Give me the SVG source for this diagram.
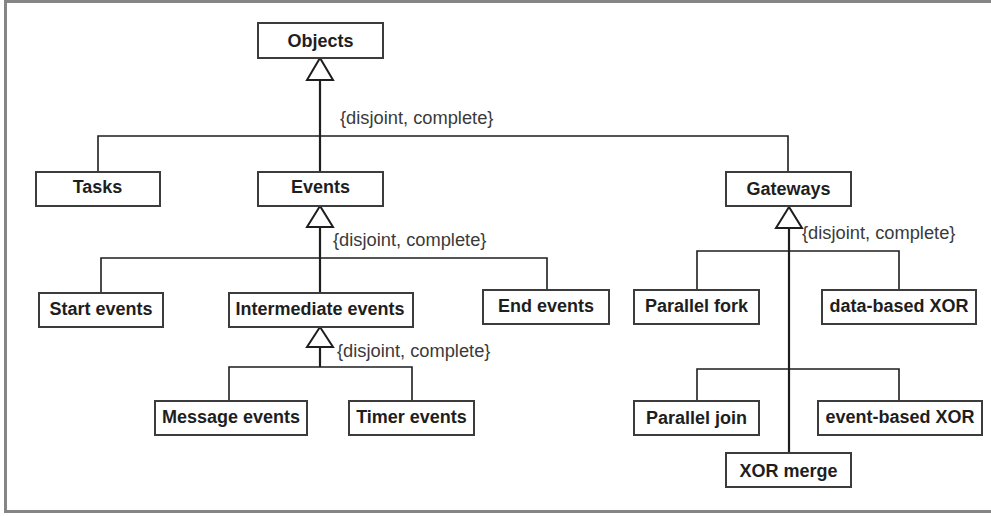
<svg xmlns="http://www.w3.org/2000/svg" width="991" height="516" viewBox="0 0 991 516">
  <style>
    .frame { fill: none; stroke: #858585; stroke-width: 3; }
    .box rect { fill: #ffffff; stroke: #3c3c3c; stroke-width: 2; }
    .box text { font-family: "Liberation Sans", Arial, sans-serif; font-size: 18px; font-weight: bold; fill: #1e1e1e; text-anchor: middle; }
    .wire { fill: none; stroke: #1e1e1e; stroke-width: 1.6; }
    .stem { fill: none; stroke: #1e1e1e; stroke-width: 2.2; }
    .tri { fill: #ffffff; stroke: #1e1e1e; stroke-width: 2; stroke-linejoin: miter; }
    .note { font-family: "Liberation Sans", Arial, sans-serif; font-size: 18.3px; fill: #3a3a3a; }
  </style>

  <rect x="0" y="0" width="991" height="516" fill="#ffffff"/>
  <rect class="frame" x="5.5" y="1.5" width="1000" height="510"/>

  <!-- generalisation connectors -->
  <g id="connectors">
    <!-- Objects -> Tasks / Events / Gateways -->
    <path class="stem" d="M320 80 V172"/>
    <path class="wire" d="M98 172 V136 H788 V172"/>
    <polygon class="tri" points="320,58 307,80 333,80"/>
    <text class="note" x="340" y="124">{disjoint, complete}</text>

    <!-- Events -> Start / Intermediate / End -->
    <path class="stem" d="M320 227 V293"/>
    <path class="wire" d="M101 293 V258 H547 V290"/>
    <polygon class="tri" points="320,206 307,227 333,227"/>
    <text class="note" x="333" y="246">{disjoint, complete}</text>

    <!-- Intermediate events -> Message / Timer -->
    <path class="stem" d="M320 347 V367"/>
    <path class="wire" d="M229 401 V367 H412 V401"/>
    <polygon class="tri" points="320,327 307,347 333,347"/>
    <text class="note" x="337" y="357">{disjoint, complete}</text>

    <!-- Gateways -> five gateway kinds -->
    <path class="stem" d="M789 228 V453"/>
    <path class="wire" d="M697 290 V251 H899 V290"/>
    <path class="wire" d="M697 401 V369 H899 V401"/>
    <polygon class="tri" points="789,207 776,228 802,228"/>
    <text class="note" x="802" y="239">{disjoint, complete}</text>
  </g>

  <!-- class nodes -->
  <g id="objects" class="box"><rect x="258" y="23" width="125" height="35"/><text x="320.5" y="47">Objects</text></g>
  <g id="tasks" class="box"><rect x="36" y="172" width="124" height="34"/><text x="97.5" y="193">Tasks</text></g>
  <g id="events" class="box"><rect x="258" y="172" width="125" height="34"/><text x="320.5" y="193">Events</text></g>
  <g id="gateways" class="box"><rect x="726" y="172" width="125" height="34"/><text x="788.5" y="195">Gateways</text></g>

  <g id="start-events" class="box"><rect x="39" y="293" width="124" height="34"/><text x="101" y="315">Start events</text></g>
  <g id="intermediate-events" class="box"><rect x="229" y="293" width="184" height="34"/><text x="320" y="315">Intermediate events</text></g>
  <g id="end-events" class="box"><rect x="483" y="290" width="126" height="34"/><text x="546" y="312">End events</text></g>

  <g id="message-events" class="box"><rect x="155" y="401" width="152" height="34"/><text x="231" y="423">Message events</text></g>
  <g id="timer-events" class="box"><rect x="349" y="401" width="125" height="34"/><text x="411.5" y="423">Timer events</text></g>

  <g id="parallel-fork" class="box"><rect x="634" y="290" width="125" height="34"/><text x="696.5" y="312">Parallel fork</text></g>
  <g id="data-based-xor" class="box"><rect x="822" y="290" width="154" height="34"/><text x="899" y="312">data-based XOR</text></g>
  <g id="parallel-join" class="box"><rect x="634" y="401" width="125" height="34"/><text x="696.5" y="424">Parallel join</text></g>
  <g id="event-based-xor" class="box"><rect x="818" y="401" width="164" height="34"/><text x="900" y="423">event-based XOR</text></g>
  <g id="xor-merge" class="box"><rect x="726" y="453" width="125" height="34"/><text x="788.5" y="477">XOR merge</text></g>
</svg>
